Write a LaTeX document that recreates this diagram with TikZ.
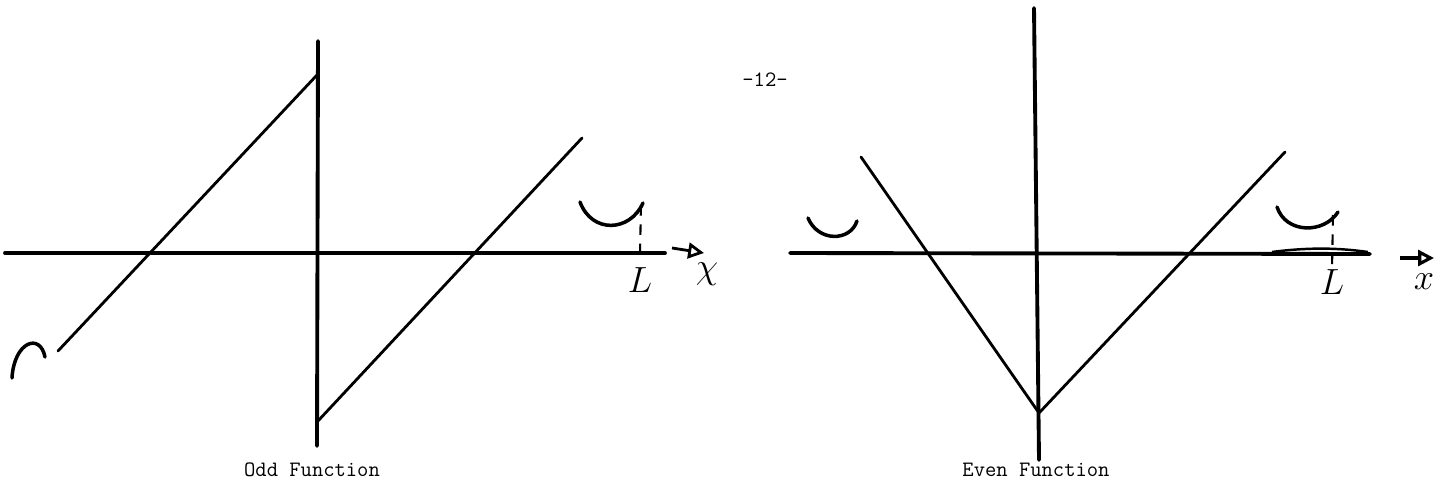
\documentclass[tikz,border=0pt]{standalone}
\usepackage{tikz}
\usetikzlibrary{arrows.meta,calc,positioning}

\begin{document}
\begin{tikzpicture}[x=0.02cm, y=-0.02cm, every node/.style={font=\ttfamily\fontsize{12.5}{14}\selectfont},
  axisline/.style={line width=2.2pt, line cap=round},
  graphline/.style={line width=1.6pt, line cap=round},
  sketch/.style={line width=2pt, line cap=round},
  guide/.style={line width=1.2pt, dashed, dash pattern=on 6pt off 5pt},
  hand/.style={font=\huge}]
  \useasboundingbox (0,0) rectangle (1449,497);
  % left panel: axes
  \coordinate (oxA) at (5,253);
  \coordinate (oxB) at (665,253);
  \coordinate (oyA) at (318,41);
  \coordinate (oyB) at (317,446);
  % left panel: the two sawtooth branches
  \coordinate (oL1) at (58,351);
  \coordinate (oL2) at (317,75);
  \coordinate (oR1) at (317,422);
  \coordinate (oR2) at (582,138);
  \draw[axisline] (oxA)--(oxB);
  \draw[axisline] (oyA)--(oyB);
  \draw[graphline] (oL1)--(oL2) (oR1)--(oR2);
  % little arcs and the mark at L
  \draw[sketch] (12,378) .. controls (14,342) and (40,332) .. (45,357);
  \draw[sketch] (580,202) .. controls (592,234) and (630,232) .. (643,203);
  \draw[guide] (641,205)--(640,253);
  \coordinate (oArrA) at (672,248);
  \coordinate (oArrB) at (704,253);
  \draw[line width=1.6pt, -{Triangle[open, length=9pt, width=9pt]}] (oArrA)--(oArrB);
  \node[hand] (oLab) at (640,280) {$L$};
  \node[hand] (oX) at (707,274) {$\chi$};
  \node (oddname) at (312,470) {Odd Function};
  \node (pagenum) at (765,80) {-12-};
  % right panel: axes
  \coordinate (exA) at (790,253);
  \coordinate (exB) at (1370,254);
  \coordinate (eyA) at (1034,8);
  \coordinate (eyB) at (1039,460);
  % right panel: the V
  \coordinate (eL) at (861,157);
  \coordinate (eV) at (1039,413);
  \coordinate (eR) at (1285,152);
  \draw[axisline] (exA)--(exB);
  \draw[line width=1.4pt] (1272,252) .. controls (1310,247) and (1340,248) .. (1368,252);
  \draw[axisline] (eyA)--(eyB);
  \draw[graphline] (eL)--(eV)--(eR);
  \draw[sketch] (808,218) .. controls (818,242) and (850,242) .. (857,221);
  \draw[sketch] (1277,207) .. controls (1286,234) and (1324,234) .. (1338,212);
  \draw[guide] (1333,215)--(1332,268);
  \coordinate (eArrA) at (1400,258);
  \coordinate (eArrB) at (1434,258);
  \draw[line width=1.8pt, -{Triangle[open, length=9pt, width=9pt]}] (eArrA)--(eArrB);
  \node[hand] (eLab) at (1332,282) {$L$};
  \node[hand] (eX) at (1424,282) {$x$};
  \node (evenname) at (1036,470) {Even Function};
\end{tikzpicture}
\end{document}
